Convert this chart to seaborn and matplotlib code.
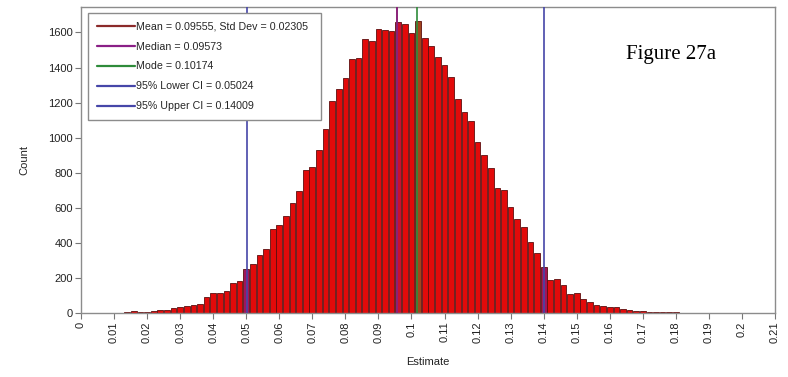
import numpy as np
import pandas as pd
import matplotlib
matplotlib.use("Agg")
import matplotlib.pyplot as plt
import seaborn as sns

# Bootstrap distribution of the estimate: bin centres (step 0.002) and counts
bin_centers = np.round(np.arange(97) * 0.002, 3)
counts = [
    1, 2, 2, 2, 3, 3, 4, 8, 12, 10,
    6, 12, 21, 21, 31, 36, 41, 49, 54, 93,
    118, 116, 125, 170, 184, 252, 281, 330, 365, 479,
    505, 553, 627, 699, 817, 835, 930, 1050, 1210, 1280,
    1342, 1447, 1453, 1561, 1550, 1622, 1613, 1607, 1658, 1650,
    1597, 1667, 1570, 1521, 1459, 1413, 1345, 1219, 1145, 1098,
    976, 902, 826, 716, 704, 606, 539, 492, 404, 345,
    262, 192, 195, 161, 112, 114, 84, 66, 50, 42,
    36, 36, 24, 19, 15, 13, 9, 8, 7, 8,
    5, 4, 2, 1, 3, 4, 2,
]

# Summary statistics
stat_labels = [
    "Mean = 0.09555, Std Dev = 0.02305",
    "Median = 0.09573",
    "Mode = 0.10174",
    "95% Lower CI = 0.05024",
    "95% Upper CI = 0.14009",
]
stat_values = [0.09555, 0.09573, 0.10174, 0.05024, 0.14009]
stat_colors = ["#8B2A2A", "#8A1F86", "#2E8B3A", "#4646A8", "#4646A8"]

y_ticks = [0, 200, 400, 600, 800, 1000, 1200, 1400, 1600]
x_ticks = [round(i * 0.01, 2) for i in range(22)]

sns.set_theme(style="white")
plt.rcParams["font.family"] = ["Liberation Sans", "DejaVu Sans"]

fig = plt.figure(figsize=(7.88, 3.77), dpi=100)
ax = fig.add_axes([81 / 788, 1 - 313.3 / 377, 694 / 788, 306.3 / 377])

df = pd.DataFrame({"Estimate": bin_centers, "Count": counts})
sns.histplot(
    data=df, x="Estimate", weights="Count",
    binwidth=0.002, binrange=(-0.001, 0.193), shrink=0.86,
    color="#E20A0A", edgecolor="#5C0E0E", linewidth=0.6, alpha=1, ax=ax,
)

# Bars that contain a CI bound or the mode take a blended tint
highlight = {0.05: "#A0155A", 0.14: "#A0155A", 0.102: "#A2441C", 0.096: "#C8102E"}
for patch in ax.patches:
    c = round(patch.get_x() + patch.get_width() / 2, 3)
    if c in highlight:
        patch.set_facecolor(highlight[c])

for val, lab, col in zip(stat_values, stat_labels, stat_colors):
    ax.axvline(val, color=col, lw=1.2, label=lab, zorder=3)

ax.set_xlim(0, 0.21)
ax.set_ylim(0, 1745)
ax.set_xticks(x_ticks)
ax.set_xticklabels([f"{v:g}" for v in x_ticks], rotation=90, fontsize=8, color="#222222")
ax.set_yticks(y_ticks)
ax.set_yticklabels([str(v) for v in y_ticks], fontsize=8, color="#222222")
ax.tick_params(axis="both", direction="out", length=4, width=0.8, color="#777777", pad=2)
ax.tick_params(axis="x", bottom=True)
ax.tick_params(axis="y", left=True)

for s in ax.spines.values():
    s.set_color("#8C8C8C")
    s.set_linewidth(1.0)

ax.set_xlabel("Estimate", fontsize=8, color="#222222", labelpad=10)
ax.set_ylabel("Count", fontsize=8, color="#222222", labelpad=13)

leg = ax.legend(
    loc="upper left", bbox_to_anchor=(7 / 694, 1 - 6 / 306.3, 233 / 694, 0),
    mode="expand", borderaxespad=0, frameon=True, fancybox=False,
    framealpha=1, facecolor="white",
    edgecolor="#8C8C8C", fontsize=7.7, handlelength=3.6, handletextpad=0.1,
    labelspacing=0.93, borderpad=0.8,
)
leg.set_zorder(10)
leg.get_frame().set_linewidth(1.0)
for line in leg.get_lines():
    line.set_linewidth(1.6)

fig.text(671 / 788, 1 - 55 / 377, "Figure 27a", family=["Liberation Serif"],
         fontsize=15, ha="center", va="center", color="black")

fig.savefig("out.png", dpi=100)
